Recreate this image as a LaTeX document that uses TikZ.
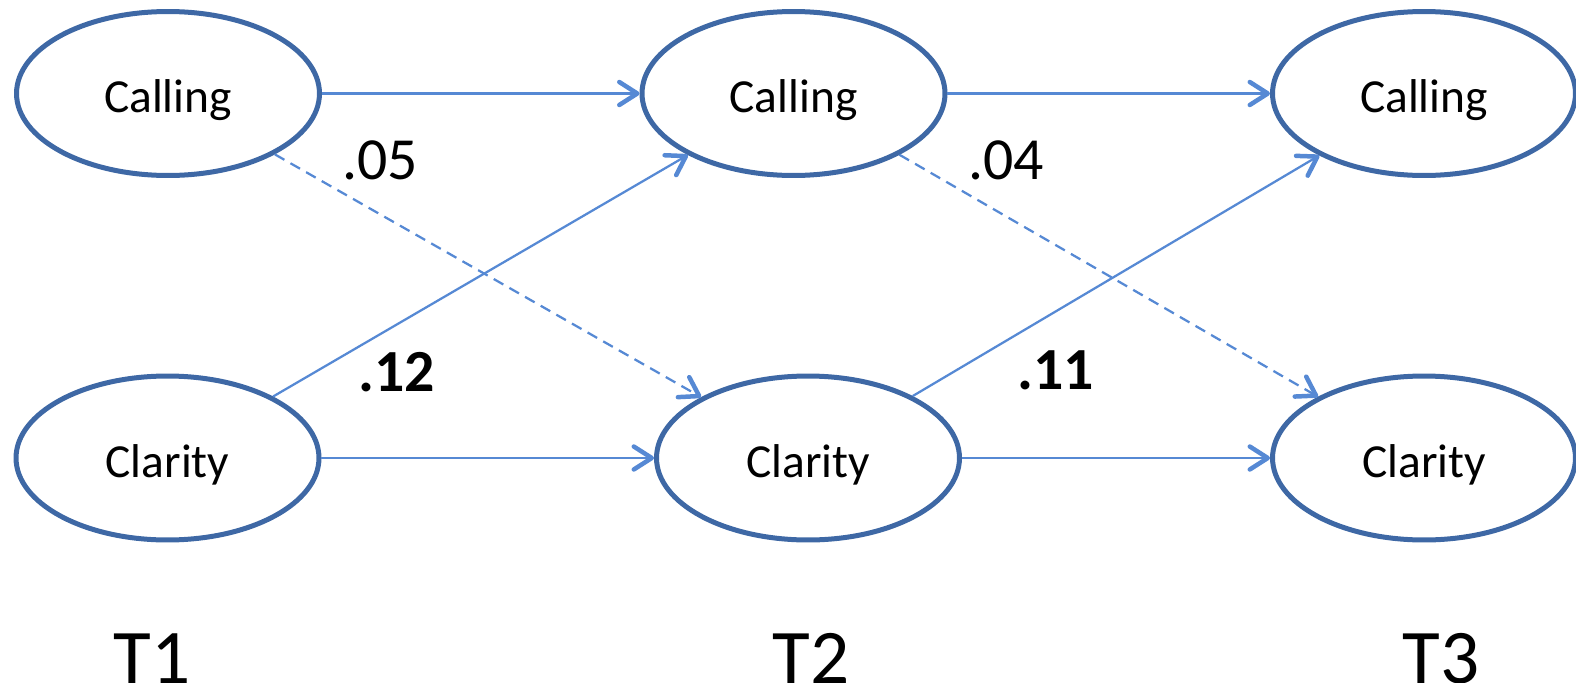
\documentclass[tikz,border=0pt]{standalone}
\usepackage{fontspec}
\setmainfont{Carlito}
\usetikzlibrary{shapes.geometric,arrows.meta}
\definecolor{ringblue}{HTML}{3E68A5}
\definecolor{linkblue}{HTML}{5689D4}
\begin{document}
\begin{tikzpicture}[x=0.02cm,y=-0.02cm,
  construct/.style={ellipse,draw=ringblue,line width=0.1cm,
    minimum width=6.06cm,minimum height=3.28cm,inner sep=0pt,
    text height=0.9cm,text depth=0.12cm,
    font=\fontsize{27pt}{32pt}\selectfont},
  link/.style={draw=linkblue,line width=0.045cm,
    -{Straight Barb[length=0.36cm,width=0.46cm,line width=0.09cm,round]}},
  cross/.style={link,dash pattern=on 0.22cm off 0.14cm},
  coef/.style={anchor=base,font=\fontsize{34pt}{40pt}\selectfont},
  wave/.style={anchor=base,font=\fontsize{44pt}{52pt}\selectfont}]
\useasboundingbox (0,0) rectangle (1576,683);

% constructs at three waves
\node[construct] (call1) at (168,93.5) {Calling};
\node[construct] (call2) at (793.5,93.5) {Calling};
\node[construct] (call3) at (1424,93.5) {Calling};
\node[construct] (clar1) at (167.5,458) {Clarity};
\node[construct] (clar2) at (808,458) {Clarity};
\node[construct] (clar3) at (1424,458) {Clarity};

% stability paths
\draw[link] (call1) -- (call2);
\draw[link] (call2) -- (call3);
\draw[link] (clar1) -- (clar2);
\draw[link] (clar2) -- (clar3);

% cross-lagged paths
\draw[link] (clar1) -- (call2);
\draw[link] (clar2) -- (call3);
\draw[cross] (call1) -- (clar2);
\draw[cross] (call2) -- (clar3);

% path coefficients
\node[coef] (c05) at (380,179) {.05};
\node[coef] (c04) at (1006,179) {.04};
\node[coef,font=\fontsize{34pt}{40pt}\selectfont\bfseries] (c12) at (397,391) {.12};
\node[coef,font=\fontsize{34pt}{40pt}\selectfont\bfseries] (c11) at (1056,389) {.11};

% wave labels
\node[wave] (t1) at (152,683) {T1};
\node[wave] (t2) at (811,683) {T2};
\node[wave] (t3) at (1441,683) {T3};
\end{tikzpicture}
\end{document}
